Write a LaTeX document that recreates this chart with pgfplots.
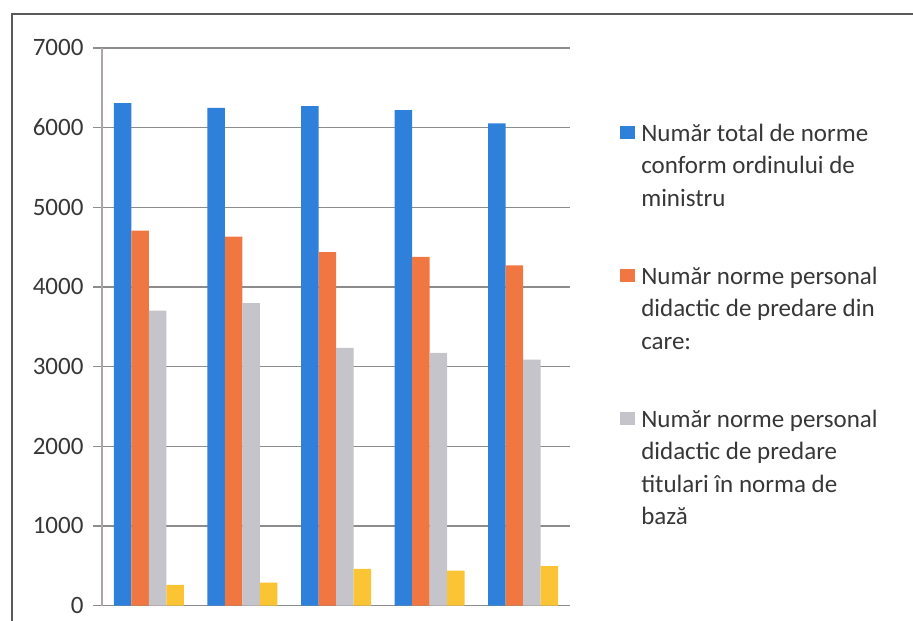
\documentclass[border=0pt]{standalone}
\usepackage{fontspec}
\setmainfont{Carlito}
\usepackage{pgfplots}
\pgfplotsset{compat=1.18}
\definecolor{cblue}{RGB}{46,128,218}
\definecolor{corange}{RGB}{240,118,66}
\definecolor{cgray}{RGB}{196,196,202}
\definecolor{cyellow}{RGB}{250,196,52}
\definecolor{cgrid}{RGB}{140,140,140}
\definecolor{ctext}{RGB}{55,55,55}
\begin{document}
\begin{tikzpicture}[x=1bp,y=1bp]
\useasboundingbox (0,0) rectangle (913,621);
\draw[color={rgb,255:red,90;green,90;blue,90}, line width=1.6bp] (12,-10) -- (12,607) -- (930,607);
\begin{axis}[
  at={(109,19.3)}, anchor=south west,
  scale only axis, width=468bp, height=557.7bp,
  ymin=0, ymax=7000, ytick={0,1000,...,7000},
  xmin=-0.5, xmax=4.5, xtick=\empty,
  ybar=0pt, bar width=17.5bp,
  axis x line*=bottom, axis y line*=left,
  axis line style={cgrid, line width=1.2bp},
  y axis line style={color={rgb,255:red,175;green,165;blue,165}, line width=1.2bp},
  ymajorgrids, grid style={cgrid, line width=1.4bp},
  tick align=outside, major tick length=9bp,
  tick style={cgrid, line width=1.2bp},
  scaled ticks=false,
  /pgf/number format/1000 sep={},
  /pgf/number format/assume math mode=true,
  ticklabel style={font=\fontsize{25bp}{30bp}\selectfont, text=ctext},
  yticklabel style={xshift=-6bp},
  legend cell align=left,
  legend style={at={(axis description cs:1.107,0.884)}, anchor=north west,
    draw=none, fill=none, inner sep=0pt, row sep=46bp, column sep=4bp,
    font=\fontsize{25bp}{32.5bp}\selectfont, text=ctext,
    cells={align=left, anchor=north west}},
  legend image code/.code={\path (0bp,9bp); \fill[#1, draw=none] (0bp,-17bp) rectangle (15bp,-4bp);},
]
\addplot[fill=cblue, draw=none] coordinates {(0,6306) (1,6247) (2,6268) (3,6219) (4,6052)};
\addplot[fill=corange, draw=none] coordinates {(0,4707) (1,4632) (2,4436) (3,4377) (4,4271)};
\addplot[fill=cgray, draw=none] coordinates {(0,3703) (1,3796) (2,3235) (3,3171) (4,3087)};
\addplot[fill=cyellow, draw=none] coordinates {(0,260) (1,289) (2,461) (3,439) (4,495)};
\addlegendentry{Număr total de norme\\conform ordinului de\\ministru}
\addlegendentry{Număr norme personal\\didactic de predare din\\care:}
\addlegendentry{Număr norme personal\\didactic de predare\\titulari în  norma de\\bază}
\end{axis}
\end{tikzpicture}
\end{document}
